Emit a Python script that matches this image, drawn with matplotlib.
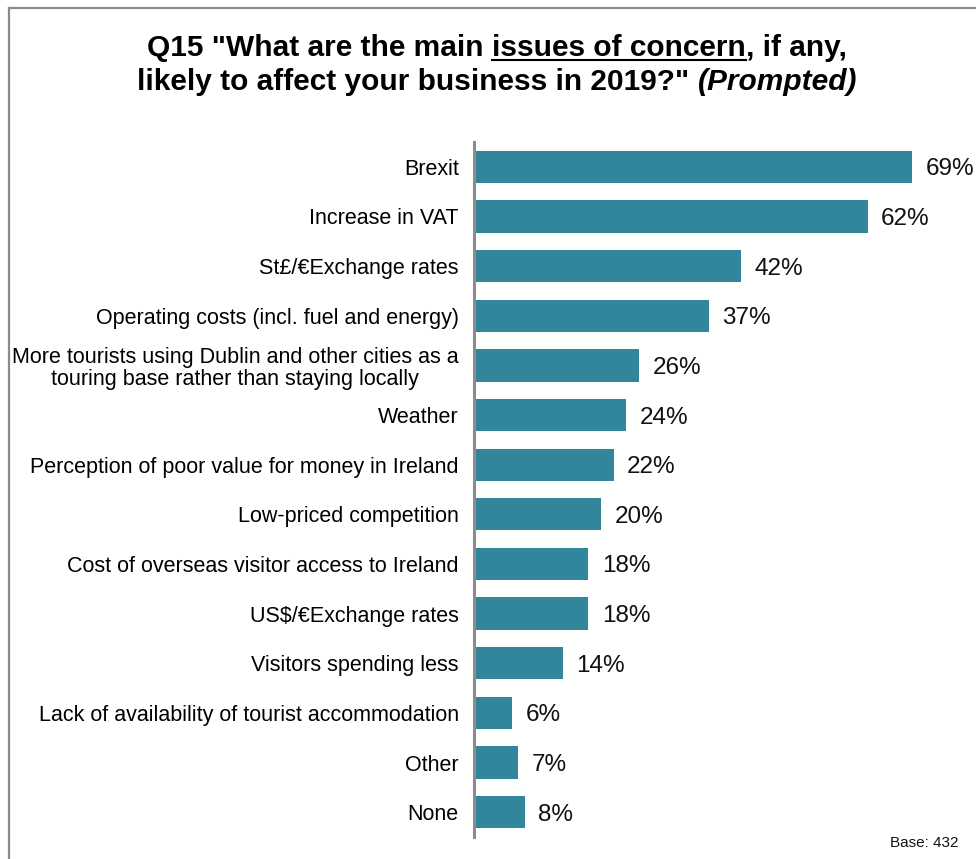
import matplotlib.pyplot as plt
from matplotlib.lines import Line2D

plt.rcParams['font.family'] = ['Liberation Sans', 'DejaVu Sans']

# Issues of concern, top to bottom
issues = [
    'Brexit',
    'Increase in VAT',
    'St£/€Exchange rates',
    'Operating costs (incl. fuel and energy)',
    'More tourists using Dublin and other cities as a\ntouring base rather than staying locally',
    'Weather',
    'Perception of poor value for money in Ireland',
    'Low-priced competition',
    'Cost of overseas visitor access to Ireland',
    'US$/€Exchange rates',
    'Visitors spending less',
    'Lack of availability of tourist accommodation',
    'Other',
    'None',
]
pct = [69, 62, 42, 37, 26, 24, 22, 20, 18, 18, 14, 6, 7, 8]

bar_color = '#31869C'
grey = '#8C8C8C'

W, H = 976, 859
fig = plt.figure(figsize=(W / 100, H / 100), dpi=100)

# frame lines along the top and left edge
fig.add_artist(Line2D([9 / W, 9 / W], [0, 1 - 8 / H], color=grey, lw=1.6))
fig.add_artist(Line2D([9 / W, 1], [1 - 8 / H, 1 - 8 / H], color=grey, lw=1.6))

ax_left, ax_right = 474, 938
ax_top, ax_bot = 142, 837
px_per_pct = 6.35
ax = fig.add_axes([ax_left / W, 1 - ax_bot / H, (ax_right - ax_left) / W, (ax_bot - ax_top) / H])

y = list(range(len(issues)))
ax.barh(y, pct, height=0.65, color=bar_color)
ax.set_ylim(len(issues) - 0.5, -0.5)
ax.set_xlim(0, (ax_right - ax_left) / px_per_pct)

for yi, v in zip(y, pct):
    ax.text(v + 2.1, yi + 0.05, f'{v}%', va='center', ha='left', fontsize=17.5, color='#111111')

ax.set_yticks(y)
ax.set_yticklabels(issues, fontsize=15.5, multialignment='center', linespacing=1.05)
ax.tick_params(axis='y', length=0, pad=11)
ax.set_xticks([])
for s in ['top', 'right', 'bottom']:
    ax.spines[s].set_visible(False)
ax.spines['left'].set_color(grey)
ax.spines['left'].set_linewidth(2.2)

# title in pieces: underlined middle part and bold-italic tail
fig.canvas.draw()
r = fig.canvas.get_renderer()
tsize = 21.5
cx = 497 / W


def line_pieces(pieces, ypix):
    texts = []
    for s, style in pieces:
        t = fig.text(0, 1 - ypix / H, s, fontsize=tsize, fontweight='bold', style=style,
                     ha='left', va='baseline')
        texts.append(t)
    widths = [t.get_window_extent(r).width for t in texts]
    x = cx * W - sum(widths) / 2
    for t, w in zip(texts, widths):
        t.set_x(x / W)
        x += w
    return texts, widths


l1, w1 = line_pieces([('Q15 "What are the main ', 'normal'),
                      ('issues of concern', 'normal'),
                      (', if any,', 'normal')], 56)
x0 = l1[1].get_position()[0]
fig.add_artist(Line2D([x0, x0 + w1[1] / W], [1 - 60 / H, 1 - 60 / H], color='black', lw=1.5))

line_pieces([('likely to affect your business in 2019?" ', 'normal'),
             ('(Prompted)', 'italic')], 90)

fig.text(958 / W, 1 - 843 / H, 'Base: 432', fontsize=11, ha='right', va='center', color='#111111')

fig.savefig('out.png', dpi=100)
